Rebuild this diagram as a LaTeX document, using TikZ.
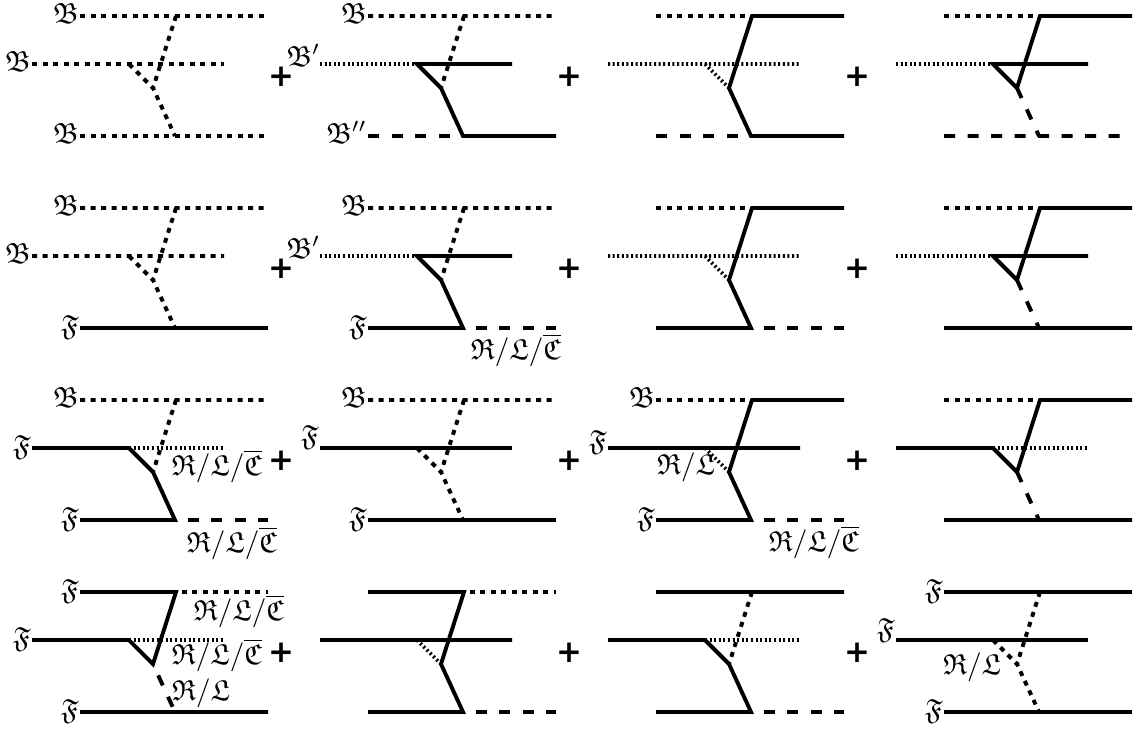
\documentclass[tikz,border=0pt]{standalone}
\usepackage{amssymb}
\usepackage{graphicx}
\usepackage{fontspec}
\newfontfamily\plusfont{DejaVu Sans}
\newcommand{\lbltxt}[1]{\scalebox{2.9}{$#1$}}
\newcommand{\rlctxt}{\lbltxt{\mathfrak{R}/\mathfrak{L}/\overline{\mathfrak{C}}}}
\newcommand{\rltxt}{\lbltxt{\mathfrak{R}/\mathfrak{L}}}
\newcommand{\bprime}{\lbltxt{\mathfrak{B}'}}
\newcommand{\mkpanel}[1]{%
  \coordinate (#1tl) at (80,0);
  \coordinate (#1T)  at (176,0);
  \coordinate (#1tr) at (268,0);
  \coordinate (#1ml) at (32,48);
  \coordinate (#1M)  at (129,48);
  \coordinate (#1mr) at (224,48);
  \coordinate (#1P)  at (153,72);
  \coordinate (#1bl) at (80,120);
  \coordinate (#1B)  at (175,120);
  \coordinate (#1br) at (268,120);
}
\tikzset{
  sol/.style={line width=3.9pt},
  bos/.style={line width=3.9pt, dash pattern=on 5pt off 5.5pt},
  bosr/.style={bos, dash phase=5pt},
  fdot/.style={line width=3.6pt, dash pattern=on 2pt off 2.6pt},
  ldash/.style={line width=3.9pt, dash pattern=on 11pt off 12.5pt},
  ldashr/.style={ldash, dash phase=11pt},
  lbl/.style={inner sep=0pt},
  lft/.style={lbl, anchor=base east, xshift=-1pt, yshift=-7pt},
  raised/.style={lbl, anchor=base east, xshift=-1pt, yshift=0pt},
  plus/.style={inner sep=0pt, font=\plusfont\bfseries\fontsize{31}{34}\selectfont},
}
\newcommand{\plustxt}{\makebox[18pt]{+}}
\begin{document}
\begin{tikzpicture}[x=1pt,y=-1pt]
\useasboundingbox (0,0) rectangle (1138,729);

% ---------------- Row 1 ----------------
\begin{scope}[shift={(0,16)}]
  \mkpanel{a1}
  \draw[bos] (a1tl)--(a1tr) (a1ml)--(a1mr) (a1bl)--(a1br);
  \draw[bos] (a1T)--(a1P) (a1M)--(a1P)--(a1B);
  \node[lft] (a1Lt) at (a1tl) {\lbltxt{\mathfrak{B}}};
  \node[lft] (a1Lm) at (a1ml) {\lbltxt{\mathfrak{B}}};
  \node[lft] (a1Lb) at (a1bl) {\lbltxt{\mathfrak{B}}};
\end{scope}
\begin{scope}[shift={(288,16)}]
  \mkpanel{a2}
  \draw[bos] (a2tl)--(a2tr) (a2T)--(a2P);
  \draw[fdot] (a2ml)--(a2M);
  \draw[ldash] (a2bl)--(a2B);
  \draw[sol] (a2mr)--(a2M)--(a2P)--(a2B)--(a2br);
  \node[lft] (a2Lt) at (a2tl) {\lbltxt{\mathfrak{B}}};
  \node[raised, xshift=1.5pt, yshift=-2pt] (a2Lm) at (a2ml) {\bprime};
  \node[lft] (a2Lb) at (a2bl) {\lbltxt{\mathfrak{B}''}};
\end{scope}
\begin{scope}[shift={(576,16)}]
  \mkpanel{a3}
  \draw[bos] (a3tl)--(a3T);
  \draw[fdot] (a3ml)--(a3mr) (a3M)--(a3P);
  \draw[ldash] (a3bl)--(a3B);
  \draw[sol] (a3tr)--(a3T)--(a3P)--(a3B)--(a3br);
\end{scope}
\begin{scope}[shift={(864,16)}]
  \mkpanel{a4}
  \draw[bos] (a4tl)--(a4T);
  \draw[fdot] (a4ml)--(a4M);
  \draw[ldash] (a4bl)--(a4br) (a4P)--(a4B);
  \draw[sol] (a4tr)--(a4T)--(a4P)--(a4M)--(a4mr);
\end{scope}

% ---------------- Row 2 ----------------
\begin{scope}[shift={(0,208)}]
  \mkpanel{b1}
  \draw[bos] (b1tl)--(b1tr) (b1ml)--(b1mr) (b1T)--(b1P) (b1M)--(b1P)--(b1B);
  \draw[sol] (b1bl)--(b1br);
  \node[lft] (b1Lt) at (b1tl) {\lbltxt{\mathfrak{B}}};
  \node[lft] (b1Lm) at (b1ml) {\lbltxt{\mathfrak{B}}};
  \node[lft] (b1Lb) at (b1bl) {\lbltxt{\mathfrak{F}}};
\end{scope}
\begin{scope}[shift={(288,208)}]
  \mkpanel{b2}
  \draw[bos] (b2tl)--(b2tr) (b2T)--(b2P);
  \draw[fdot] (b2ml)--(b2M);
  \draw[ldashr] (b2B)--(b2br);
  \draw[sol] (b2mr)--(b2M)--(b2P)--(b2B)--(b2bl);
  \node[lft] (b2Lt) at (b2tl) {\lbltxt{\mathfrak{B}}};
  \node[raised, xshift=1.5pt, yshift=-2pt] (b2Lm) at (b2ml) {\bprime};
  \node[lft] (b2Lb) at (b2bl) {\lbltxt{\mathfrak{F}}};
  \node[lbl] (b2Lr) at (228,142) {\rlctxt};
\end{scope}
\begin{scope}[shift={(576,208)}]
  \mkpanel{b3}
  \draw[bos] (b3tl)--(b3T);
  \draw[fdot] (b3ml)--(b3mr) (b3M)--(b3P);
  \draw[ldashr] (b3B)--(b3br);
  \draw[sol] (b3tr)--(b3T)--(b3P)--(b3B)--(b3bl);
\end{scope}
\begin{scope}[shift={(864,208)}]
  \mkpanel{b4}
  \draw[bos] (b4tl)--(b4T);
  \draw[fdot] (b4ml)--(b4M);
  \draw[ldash] (b4P)--(b4B);
  \draw[sol] (b4tr)--(b4T)--(b4P)--(b4M)--(b4mr) (b4bl)--(b4br);
\end{scope}

% ---------------- Row 3 ----------------
\begin{scope}[shift={(0,400)}]
  \mkpanel{c1}
  \draw[bos] (c1tl)--(c1tr) (c1T)--(c1P);
  \draw[fdot] (c1M)--(c1mr);
  \draw[ldashr] (c1B)--(c1br);
  \draw[sol] (c1ml)--(c1M)--(c1P)--(c1B)--(c1bl);
  \node[lft] (c1Lt) at (c1tl) {\lbltxt{\mathfrak{B}}};
  \node[lft] (c1Lm) at (c1ml) {\lbltxt{\mathfrak{F}}};
  \node[lft] (c1Lb) at (c1bl) {\lbltxt{\mathfrak{F}}};
  \node[lbl] (c1Lr1) at (217,66) {\rlctxt};
  \node[lbl] (c1Lr2) at (232,143) {\rlctxt};
\end{scope}
\begin{scope}[shift={(288,400)}]
  \mkpanel{c2}
  \draw[bos] (c2tl)--(c2tr) (c2T)--(c2P) (c2M)--(c2P)--(c2B);
  \draw[sol] (c2ml)--(c2mr) (c2bl)--(c2br);
  \node[lft] (c2Lt) at (c2tl) {\lbltxt{\mathfrak{B}}};
  \node[raised, yshift=3pt] (c2Lm) at (c2ml) {\lbltxt{\mathfrak{F}}};
  \node[lft] (c2Lb) at (c2bl) {\lbltxt{\mathfrak{F}}};
\end{scope}
\begin{scope}[shift={(576,400)}]
  \mkpanel{c3}
  \draw[bos] (c3tl)--(c3T);
  \draw[fdot] (c3M)--(c3P);
  \draw[ldashr] (c3B)--(c3br);
  \draw[sol] (c3ml)--(c3mr) (c3tr)--(c3T)--(c3P)--(c3B)--(c3bl);
  \node[lft] (c3Lt) at (c3tl) {\lbltxt{\mathfrak{B}}};
  \node[raised, yshift=-2pt] (c3Lm) at (c3ml) {\lbltxt{\mathfrak{F}}};
  \node[lft] (c3Lb) at (c3bl) {\lbltxt{\mathfrak{F}}};
  \node[lbl] (c3Lr1) at (110,67) {\rltxt};
  \node[lbl] (c3Lr2) at (238,142) {\rlctxt};
\end{scope}
\begin{scope}[shift={(864,400)}]
  \mkpanel{c4}
  \draw[bos] (c4tl)--(c4T);
  \draw[fdot] (c4M)--(c4mr);
  \draw[ldash] (c4P)--(c4B);
  \draw[sol] (c4tr)--(c4T)--(c4P)--(c4M)--(c4ml) (c4bl)--(c4br);
\end{scope}

% ---------------- Row 4 ----------------
\begin{scope}[shift={(0,592)}]
  \mkpanel{d1}
  \draw[bosr] (d1T)--(d1tr);
  \draw[fdot] (d1M)--(d1mr);
  \draw[ldash, dash phase=11pt] (d1P)--(d1B);
  \draw[sol] (d1tl)--(d1T)--(d1P)--(d1M)--(d1ml) (d1bl)--(d1br);
  \node[lft] (d1Lt) at (d1tl) {\lbltxt{\mathfrak{F}}};
  \node[lft] (d1Lm) at (d1ml) {\lbltxt{\mathfrak{F}}};
  \node[lft] (d1Lb) at (d1bl) {\lbltxt{\mathfrak{F}}};
  \node[lbl] (d1Lr1) at (239,19) {\rlctxt};
  \node[lbl] (d1Lr2) at (217,63) {\rlctxt};
  \node[lbl] (d1Lr3) at (201,101) {\rltxt};
\end{scope}
\begin{scope}[shift={(288,592)}]
  \mkpanel{d2}
  \draw[bosr] (d2T)--(d2tr);
  \draw[fdot] (d2M)--(d2P);
  \draw[ldashr] (d2B)--(d2br);
  \draw[sol] (d2ml)--(d2mr) (d2tl)--(d2T)--(d2P)--(d2B)--(d2bl);
\end{scope}
\begin{scope}[shift={(576,592)}]
  \mkpanel{d3}
  \draw[bos] (d3T)--(d3P);
  \draw[fdot] (d3M)--(d3mr);
  \draw[ldashr] (d3B)--(d3br);
  \draw[sol] (d3tl)--(d3tr) (d3ml)--(d3M)--(d3P)--(d3B)--(d3bl);
\end{scope}
\begin{scope}[shift={(864,592)}]
  \mkpanel{d4}
  \draw[bos] (d4T)--(d4P) (d4M)--(d4P)--(d4B);
  \draw[sol] (d4tl)--(d4tr) (d4ml)--(d4mr) (d4bl)--(d4br);
  \node[lft] (d4Lt) at (d4tl) {\lbltxt{\mathfrak{F}}};
  \node[raised, yshift=2pt] (d4Lm) at (d4ml) {\lbltxt{\mathfrak{F}}};
  \node[lft] (d4Lb) at (d4bl) {\lbltxt{\mathfrak{F}}};
  \node[lbl] (d4Lr) at (108,75) {\rltxt};
\end{scope}

% ---------------- plus signs ----------------
\foreach \r/\yy in {1/77,2/269,3/461,4/653}{
  \foreach \c/\xx in {1/281,2/569,3/857}{
    \node[plus] (plus\r\c) at (\xx,\yy) {\plustxt};
  }
}
\end{tikzpicture}
\end{document}
